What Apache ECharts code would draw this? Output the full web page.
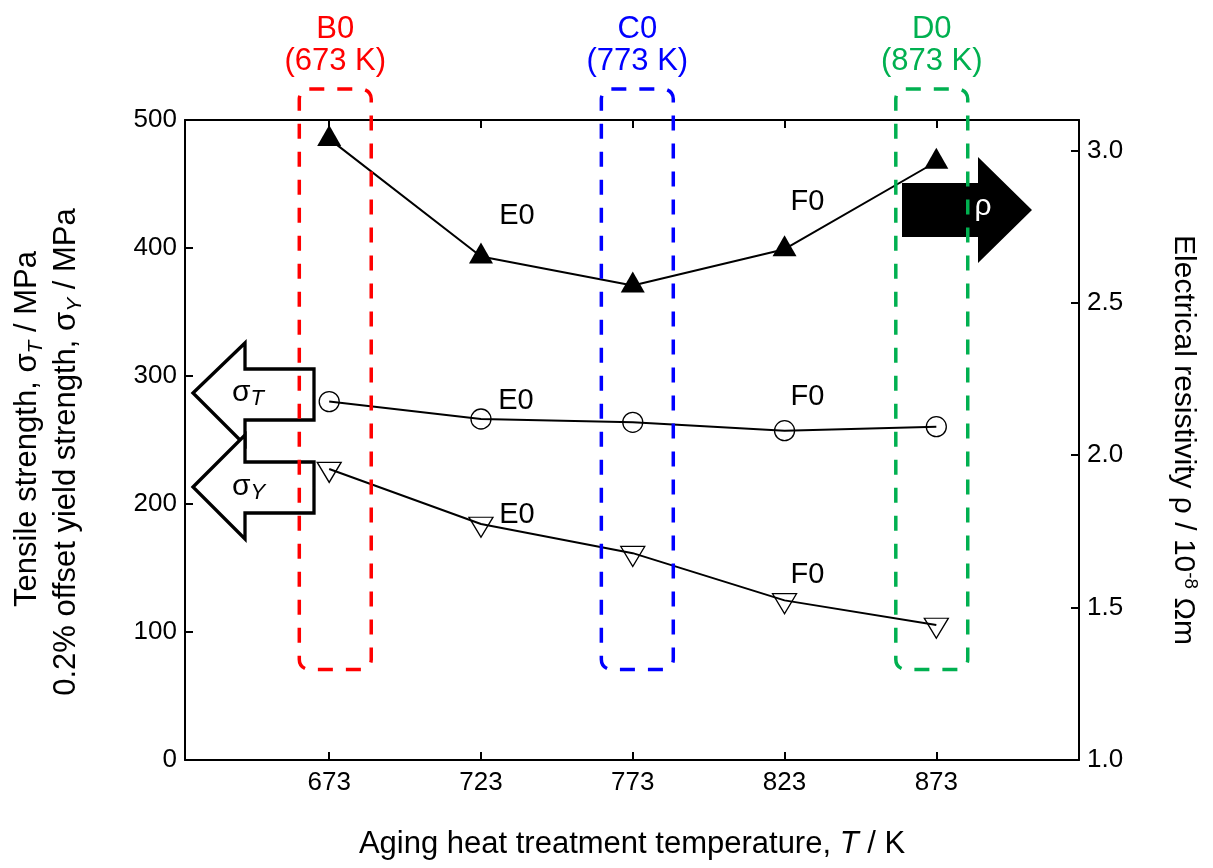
<!DOCTYPE html>
<html>
<head>
<meta charset="utf-8">
<script src="https://cdn.jsdelivr.net/npm/echarts@6/dist/echarts.min.js"></script>
<style>html,body{margin:0;padding:0;background:#fff;}#c{width:1213px;height:868px;}</style>
</head>
<body>
<div id="c"></div>
<script>
// ---- data ----
const temps = [673, 723, 773, 823, 873];
const rho = [3.038, 2.652, 2.557, 2.676, 2.963];
const sigmaT = [280, 266.4, 263.8, 257.3, 260.4];
const sigmaY = [227.3, 184.4, 161.6, 124.7, 105.5];
const pointLabels = ['', 'E0', '', 'F0', ''];
const xTicks = [673, 723, 773, 823, 873];
const leftTicks = [0, 100, 200, 300, 400, 500];
const rightTicks = [1.0, 1.5, 2.0, 2.5, 3.0];
const boxNames = ['B0', 'C0', 'D0'];
const boxTemps = ['(673 K)', '(773 K)', '(873 K)'];
const boxCenters = [675, 774.5, 871.5];

// ---- style / layout ----
const FONT = "'Liberation Sans', Arial, sans-serif";
const boxColors = ['#ff0000', '#0000ff', '#00b050'];
const boxHalfW = 11.85, boxTop = 524.2, boxBottom = 70.7;
const rhoOffsets = [null, [36, -37], null, [23, -44], null];
const tOffsets = [null, [35, -18], null, [23, -34], null];
const yOffsets = [null, [36, -12], null, [23, -29], null];

function mk(vals, offs) {
  return temps.map((t, i) => ({
    value: [t, vals[i]],
    label: pointLabels[i] ? {show: true, formatter: pointLabels[i], position: 'inside', offset: offs[i],
      fontSize: 29, color: '#000', fontFamily: FONT} : {show: false}
  }));
}

const axisLine = {show: true, lineStyle: {color: '#000', width: 2}};
const tickStyle = {color: '#000', width: 2};
const lblStyle = {fontSize: 26, color: '#000', fontFamily: FONT};

const chart = echarts.init(document.getElementById('c'), null, {renderer: 'canvas'});
chart.setOption({
  animation: false,
  backgroundColor: '#fff',
  grid: {left: 185, right: 134, top: 120, bottom: 108, containLabel: false},
  xAxis: [
    {type: 'value', min: 625.5, max: 920, position: 'bottom',
     axisLine: axisLine,
     axisTick: {show: true, inside: true, length: 8, customValues: xTicks, lineStyle: tickStyle},
     axisLabel: Object.assign({customValues: xTicks, margin: 10}, lblStyle),
     splitLine: {show: false},
     name: 'Aging heat treatment temperature, {i|T} / K',
     nameLocation: 'middle', nameGap: 69,
     nameTextStyle: {fontSize: 31, color: '#000', fontFamily: FONT,
       rich: {i: {fontSize: 31, fontStyle: 'italic', color: '#000', fontFamily: FONT}}}},
    {type: 'value', min: 625.5, max: 920, position: 'top',
     axisLine: axisLine,
     axisTick: {show: true, inside: true, length: 8, customValues: xTicks, lineStyle: tickStyle},
     axisLabel: {show: false}, splitLine: {show: false}}
  ],
  yAxis: [
    {type: 'value', min: 0, max: 500, position: 'left',
     axisLine: axisLine,
     axisTick: {show: true, inside: true, length: 8, customValues: leftTicks, lineStyle: tickStyle},
     axisLabel: Object.assign({customValues: leftTicks, margin: 8}, lblStyle),
     splitLine: {show: false},
     name: '{sp1| }{a|Tensile strength, σ}{s|T}{a| / MPa}\n{a|0.2% offset yield strength, σ}{s|Y}{a| / MPa}{sp2| }',
     nameLocation: 'middle', nameRotate: 90, nameGap: 99,
     nameTextStyle: {color: '#000', fontFamily: FONT, fontSize: 31,
       rich: {a: {fontSize: 31, lineHeight: 39, color: '#000', fontFamily: FONT},
              s: {fontSize: 21, lineHeight: 26, fontStyle: 'italic', verticalAlign: 'bottom', color: '#000', fontFamily: FONT},
              sp1: {width: 22, fontSize: 31, lineHeight: 39},
              sp2: {width: 24, fontSize: 31, lineHeight: 39}}}},
    {type: 'value', min: 1.0, max: 3.1, position: 'right',
     axisLine: axisLine,
     axisTick: {show: true, inside: true, length: 8, customValues: rightTicks, lineStyle: tickStyle},
     axisLabel: Object.assign({customValues: rightTicks, margin: 8, formatter: v => Number(v).toFixed(1)}, lblStyle),
     splitLine: {show: false},
     name: '{a|Electrical resistivity ρ / 10}{p|-8}{a| Ωm}',
     nameLocation: 'middle', nameRotate: -90, nameGap: 87,
     nameTextStyle: {color: '#000', fontFamily: FONT, fontSize: 30,
       rich: {a: {fontSize: 30, lineHeight: 34, color: '#000', fontFamily: FONT},
              p: {fontSize: 19, lineHeight: 20, verticalAlign: 'top', color: '#000', fontFamily: FONT}}}}
  ],
  graphic: [
    {type: 'polygon', z: 1, shape: {points: [[193,393],[245,343],[245,369],[314,369],[314,420],[245,420],[245,445]]},
     style: {fill: '#fff', stroke: '#000', lineWidth: 3.3}},
    {type: 'polygon', z: 1, shape: {points: [[193,487],[245,435],[245,462],[314,462],[314,513],[245,513],[245,539]]},
     style: {fill: '#fff', stroke: '#000', lineWidth: 3.3}},
    {type: 'polygon', z: 1, shape: {points: [[902,183],[978,183],[978,157],[1032,210],[978,263],[978,237],[902,237]]},
     style: {fill: '#000'}},
    {type: 'text', z: 2, x: 232, y: 393, style: {text: '{s|σ}{t|T}', align: 'left', verticalAlign: 'middle',
      rich: {s: {fontSize: 30, lineHeight: 34, fill: '#000', fontFamily: FONT},
             t: {fontSize: 22, lineHeight: 26, fontStyle: 'italic', verticalAlign: 'bottom', fill: '#000', fontFamily: FONT}}}},
    {type: 'text', z: 2, x: 232, y: 487, style: {text: '{s|σ}{t|Y}', align: 'left', verticalAlign: 'middle',
      rich: {s: {fontSize: 30, lineHeight: 34, fill: '#000', fontFamily: FONT},
             t: {fontSize: 22, lineHeight: 26, fontStyle: 'italic', verticalAlign: 'bottom', fill: '#000', fontFamily: FONT}}}},
    {type: 'text', z: 2, x: 983, y: 207, style: {text: 'ρ', align: 'center', verticalAlign: 'middle',
      fontSize: 30, fill: '#fff', fontFamily: FONT}}
  ],
  series: [
    {name: 'rho', type: 'line', xAxisIndex: 0, yAxisIndex: 1, z: 5,
     data: mk(rho, rhoOffsets),
     symbol: 'triangle', symbolSize: [24, 21], symbolOffset: [0, -3.5],
     itemStyle: {color: '#000'}, lineStyle: {color: '#000', width: 2}},
    {name: 'sigmaT', type: 'line', xAxisIndex: 0, yAxisIndex: 0, z: 5,
     data: mk(sigmaT, tOffsets),
     symbol: 'circle', symbolSize: 20,
     itemStyle: {color: 'rgba(0,0,0,0)', borderColor: '#000', borderWidth: 1.3},
     lineStyle: {color: '#000', width: 2}},
    {name: 'sigmaY', type: 'line', xAxisIndex: 0, yAxisIndex: 0, z: 5,
     data: mk(sigmaY, yOffsets),
     symbol: 'path://M0,0L24,0L12,20Z', symbolSize: [24, 20], symbolOffset: [0, 3.3],
     itemStyle: {color: 'rgba(0,0,0,0)', borderColor: '#000', borderWidth: 1.3},
     lineStyle: {color: '#000', width: 2}},
    {name: 'boxes', type: 'custom', xAxisIndex: 0, yAxisIndex: 0, z: 10, clip: false,
     data: boxCenters.map((c, i) => [c, i]),
     renderItem: function (params, api) {
       const c = api.value(0), i = api.value(1);
       const p1 = api.coord([c - boxHalfW, boxTop]);
       const p2 = api.coord([c + boxHalfW, boxBottom]);
       return {type: 'group', children: [
         {type: 'rect', shape: {x: p1[0], y: p1[1], width: p2[0] - p1[0], height: p2[1] - p1[1], r: 10},
          style: {fill: 'none', stroke: boxColors[i], lineWidth: 3.5, lineDash: [15, 13]}},
         {type: 'text', style: {text: boxNames[i] + '\n' + boxTemps[i], x: (p1[0] + p2[0]) / 2, y: p1[1] - 12,
          align: 'center', verticalAlign: 'bottom', fontSize: 31, lineHeight: 32, fill: boxColors[i], fontFamily: FONT}}
       ]};
     }}
  ]
});
</script>
</body>
</html>
